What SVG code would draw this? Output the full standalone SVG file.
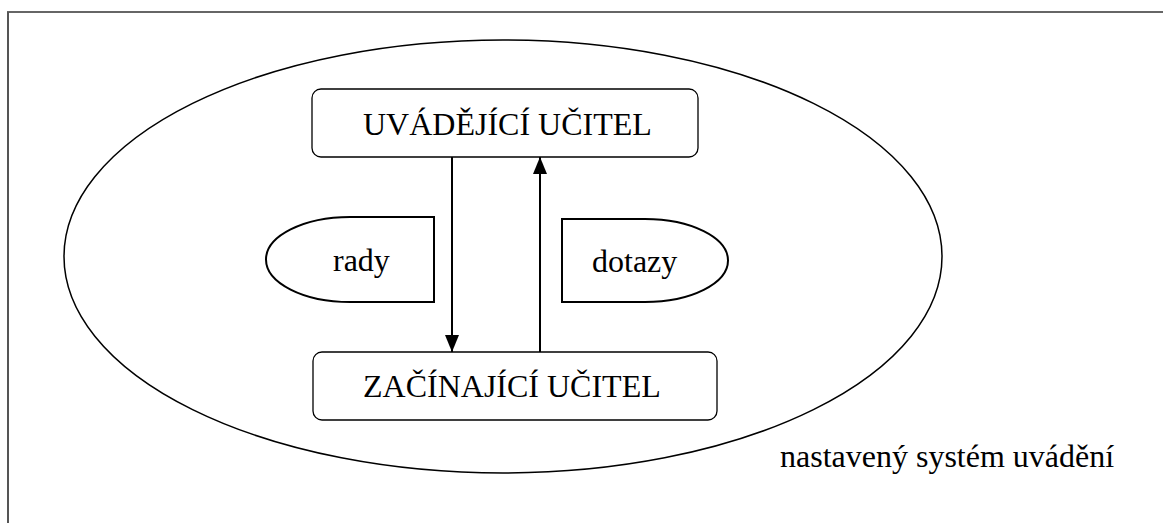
<svg xmlns="http://www.w3.org/2000/svg" width="1163" height="523" viewBox="0 0 1163 523">
<style>
.t{font-family:"Liberation Serif","Times New Roman","DejaVu Serif",serif;font-size:32px;fill:#000}
.box{fill:#fff;stroke:#000;stroke-width:1.3}
.shape{fill:#fff;stroke:#000;stroke-width:2}
.con{stroke:#000;stroke-width:2;fill:none}
</style>
<defs>
<marker id="ah" viewBox="0 0 17 14" refX="17" refY="7" markerWidth="17" markerHeight="14" markerUnits="userSpaceOnUse" orient="auto">
<path d="M0,0 L17,7 L0,14 Z" fill="#000"/>
</marker>
</defs>
<g id="frame">
<line x1="7" y1="12" x2="1163" y2="12" stroke="#333" stroke-width="1.5"/>
<line x1="8" y1="12" x2="8" y2="523" stroke="#555" stroke-width="2"/>
</g>
<g id="system">
<ellipse cx="503" cy="256.5" rx="439" ry="216.5" fill="none" stroke="#000" stroke-width="1.5"/>
<text class="t" x="780" y="467">nastavený systém uvádění</text>
</g>
<g id="uvadejici">
<rect class="box" x="312" y="89" width="386" height="68" rx="9"/>
<text class="t" x="363" y="135">UVÁDĚJÍCÍ UČITEL</text>
</g>
<g id="zacinajici">
<rect class="box" x="313" y="352" width="404" height="68" rx="9"/>
<text class="t" x="363" y="397">ZAČÍNAJÍCÍ UČITEL</text>
</g>
<g id="rady">
<path class="shape" d="M434,217 H350 A84,42.5 0 0 0 350,302 H434 Z"/>
<text class="t" x="333" y="271">rady</text>
</g>
<g id="dotazy">
<path class="shape" d="M562,219 H645 A83,41.5 0 0 1 645,302 H562 Z"/>
<text class="t" x="592" y="272">dotazy</text>
</g>
<g id="connectors">
<line class="con" x1="452" y1="157" x2="452" y2="352" marker-end="url(#ah)"/>
<line class="con" x1="540" y1="352" x2="540" y2="157" marker-end="url(#ah)"/>
</g>
</svg>
